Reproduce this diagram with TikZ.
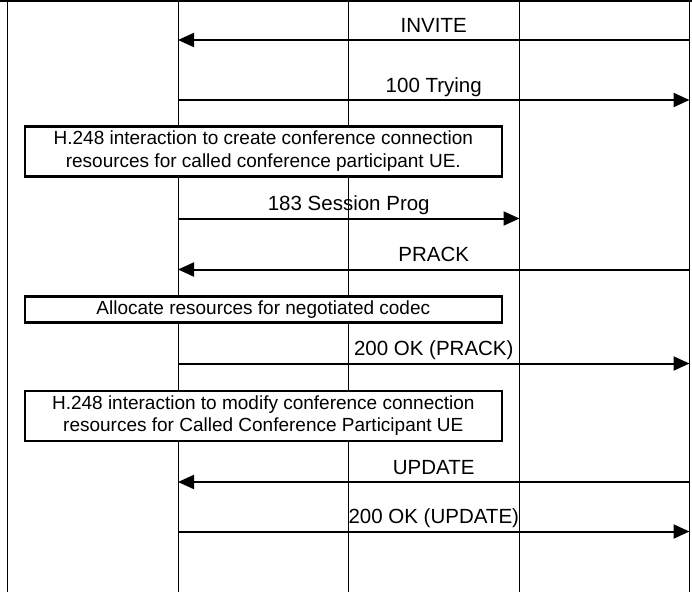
\documentclass[tikz,border=0pt]{standalone}
\usepackage{fontspec}
\setmainfont{Liberation Sans}
\usetikzlibrary{arrows.meta}
\begin{document}
\begin{tikzpicture}[x=1pt,y=-1pt,
	lifeline/.style={line width=1pt},
	msg/.style={line width=2pt,-{Triangle[length=16pt,width=14pt]}},
	msglabel/.style={midway,anchor=base,yshift=8pt,inner sep=0pt,font=\fontsize{20.5}{24}\selectfont},
	actionbox/.style={draw,line width=2.5pt,fill=white,align=center,minimum width=477pt,inner sep=0pt,font=\fontsize{19}{22.5}\selectfont}]
	\useasboundingbox (0,0) rectangle (692,597);
	
	%lifelines
	\foreach \n/\x in {a/7.5,b/178,c/348.4,d/519.5,e/689.5} {
		\coordinate (\n top) at (\x,0);
		\coordinate (\n bot) at (\x,592);
		\draw[lifeline] (\n top) -- (\n bot);
	}
	\draw[line width=2.5pt] (0,1) -- (692,1);
	
	%message end points
	\foreach \m/\y in {inv/40,try/100,prog/218.5,prack/269.5,okp/363.5,upd/482,oku/531.5} {
		\foreach \n/\x in {b/178,d/519.5,e/689.5}
			\coordinate (\m-\n) at (\x,\y);
	}
	
	%messages
	\draw[msg] (inv-e) -- (inv-b) node[msglabel] {INVITE};
	\draw[msg] (try-b) -- (try-e) node[msglabel] {100 Trying};
	\draw[msg] (prog-b) -- (prog-d) node[msglabel] {183 Session Prog};
	\draw[msg] (prack-e) -- (prack-b) node[msglabel] {PRACK};
	\draw[msg] (okp-b) -- (okp-e) node[msglabel] {200 OK (PRACK)};
	\draw[msg] (upd-e) -- (upd-b) node[msglabel] {UPDATE};
	\draw[msg] (oku-b) -- (oku-e) node[msglabel] {200 OK (UPDATE)};
	
	%H.248 and resource boxes
	\node[actionbox,minimum height=50pt] (create) at (263.3,151.3)
		{H.248 interaction to create conference connection\\resources for called conference participant UE.};
	\node[actionbox,minimum height=26pt] (alloc) at (263.3,309.3)
		{Allocate resources for negotiated codec};
	\node[actionbox,minimum height=50pt] (modify) at (263.3,415.8)
		{H.248 interaction to modify conference connection\\resources for Called Conference Participant UE};
\end{tikzpicture}
\end{document}
